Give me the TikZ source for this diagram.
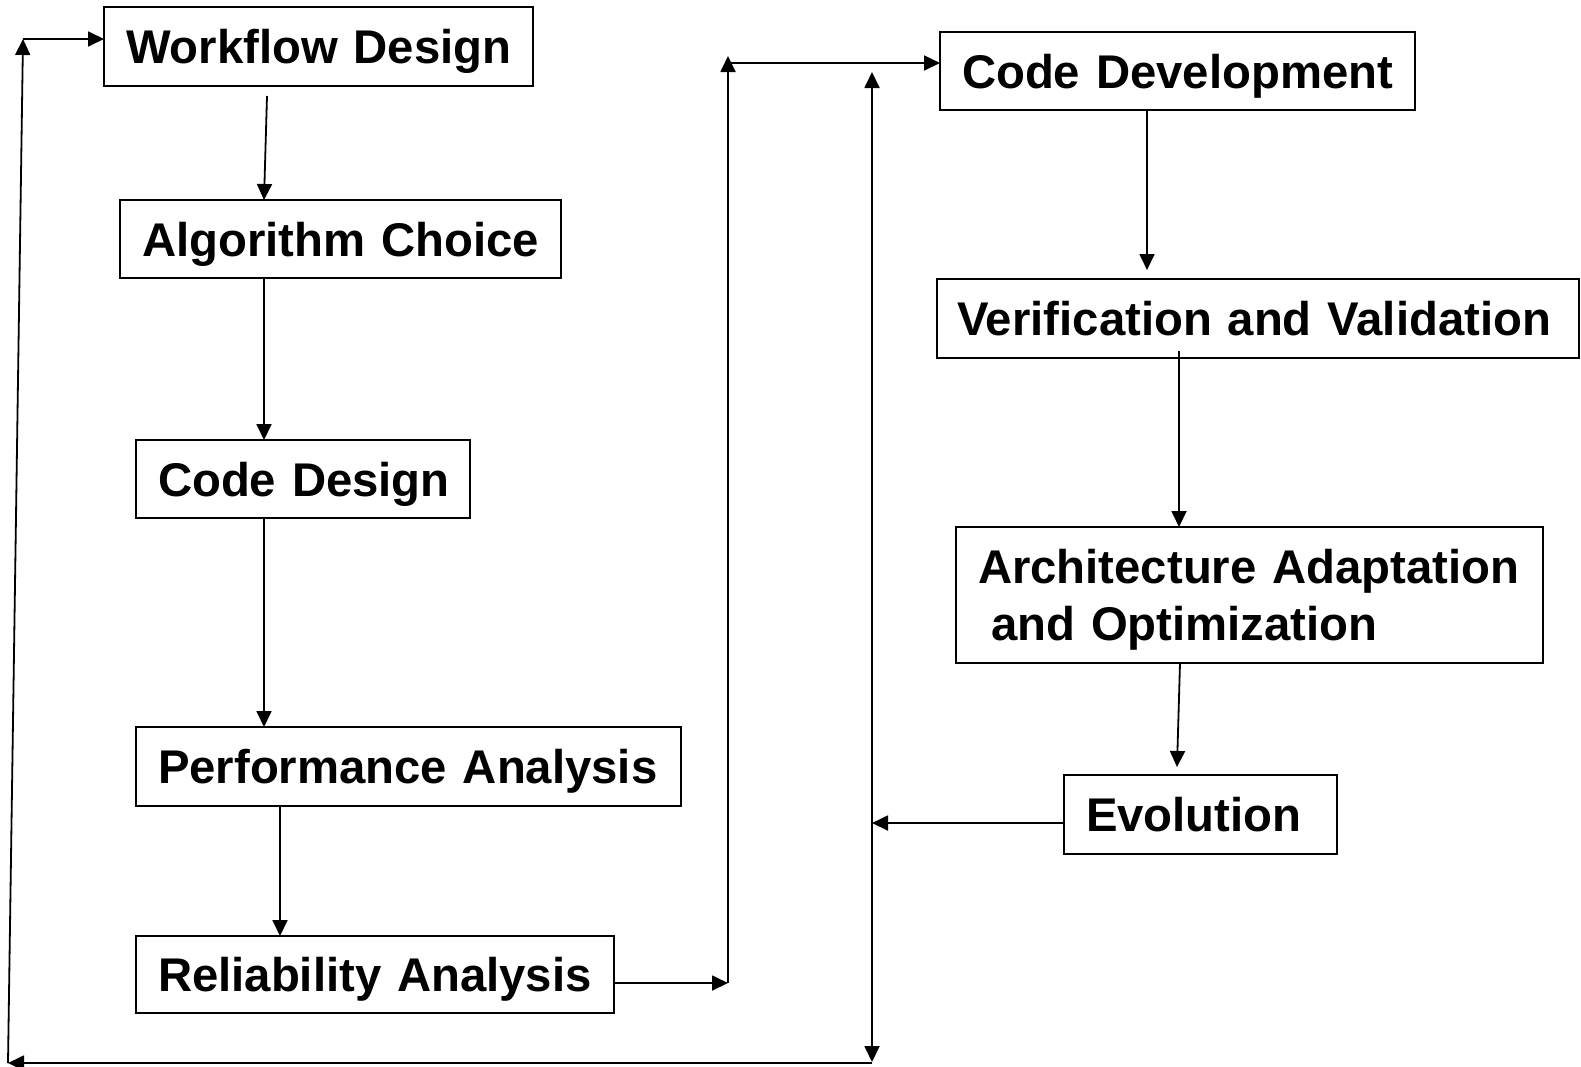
\documentclass[tikz,border=0pt]{standalone}
\usepackage{fontspec}
\setmainfont{Liberation Sans}
\usetikzlibrary{arrows.meta,calc}
\begin{document}
\begin{tikzpicture}[x=1pt,y=-1pt,
  box/.style={draw,line width=1.8pt,inner ysep=0pt,inner xsep=22pt,outer sep=0pt,
    anchor=north west,align=left,text height=34pt,text depth=0pt,
    font=\fontsize{47.3}{57.5}\selectfont\bfseries},
  conn/.style={line width=1.8pt,-{Triangle[length=16pt,width=15pt]}},
  biconn/.style={line width=1.8pt,{Triangle[length=16pt,width=15pt]}-{Triangle[length=16pt,width=15pt]}}]
\useasboundingbox[fill=white] (0,0) rectangle (1581,1066);
% boxes
\node[box,minimum height=79pt,text width=385pt] (wf) at (104,7) {\mbox{Workflow Design}};
\node[box,minimum height=78pt,text width=397pt] (alg) at (120,200) {\mbox{Algorithm Choice}};
\node[box,minimum height=78pt,text width=290pt] (cd) at (136,440) {\mbox{Code Design}};
\node[box,minimum height=79pt,text width=501pt] (pa) at (136,727) {\mbox{Performance Analysis}};
\node[box,minimum height=77pt,text width=434pt] (ra) at (136,936) {\mbox{Reliability Analysis}};
\node[box,minimum height=78pt,text width=431pt] (dev) at (940,32) {\mbox{Code Development}};
\node[box,minimum height=79pt,inner xsep=20pt,text width=602pt] (vv) at (937,279) {\mbox{Verification and Validation}};
\node[box,minimum height=136pt,text width=543pt,text depth=57.5pt] (arch) at (956,527) {\mbox{Architecture Adaptation}\\\mbox{\hspace*{0.278em}and Optimization}};
\node[box,minimum height=79pt,text width=229pt] (evo) at (1064,775) {\mbox{Evolution}};
% coordinates
\coordinate (r1) at (728,983);
\coordinate (r2) at (728,56);
\coordinate (r3) at (728,63);
\coordinate (v1) at (872,72);
\coordinate (v2) at (872,1062);
\coordinate (b1) at (872,1063);
\coordinate (b2) at (8,1063);
\coordinate (b3) at (23,39);
\coordinate (e1) at (872,823);
% left column
\draw[conn] ([shift={(163,10)}]wf.south west) -- ([shift={(144,0)}]alg.north west);
\draw[conn] ([shift={(144,0)}]alg.south west) -- ([shift={(128,0)}]cd.north west);
\draw[conn] ([shift={(128,0)}]cd.south west) -- ([shift={(128,0)}]pa.north west);
\draw[conn] ([shift={(144,0)}]pa.south west) -- ([shift={(144,0)}]ra.north west);
% to right column
\draw[conn] ([shift={(0,47)}]ra.north east) -- (r1);
\draw[conn] (r1) -- (r2);
\draw[conn] (r3) -- ([shift={(0,31)}]dev.north west);
% right column
\draw[conn] ([shift={(207,0)}]dev.south west) -- ([shift={(210,-9)}]vv.north west);
\draw[conn] ([shift={(242,-7)}]vv.south west) -- ([shift={(223,0)}]arch.north west);
\draw[conn] ([shift={(224,0)}]arch.south west) -- ([shift={(113,-8)}]evo.north west);
\draw[conn] ([shift={(0,48)}]evo.north west) -- (e1);
% feedback loop
\draw[biconn] (v2) -- (v1);
\draw[conn] (b1) -- (b2);
\draw[conn] (b2) -- (b3);
\draw[conn] (b3) -- ([shift={(0,32)}]wf.north west);
\end{tikzpicture}
\end{document}
